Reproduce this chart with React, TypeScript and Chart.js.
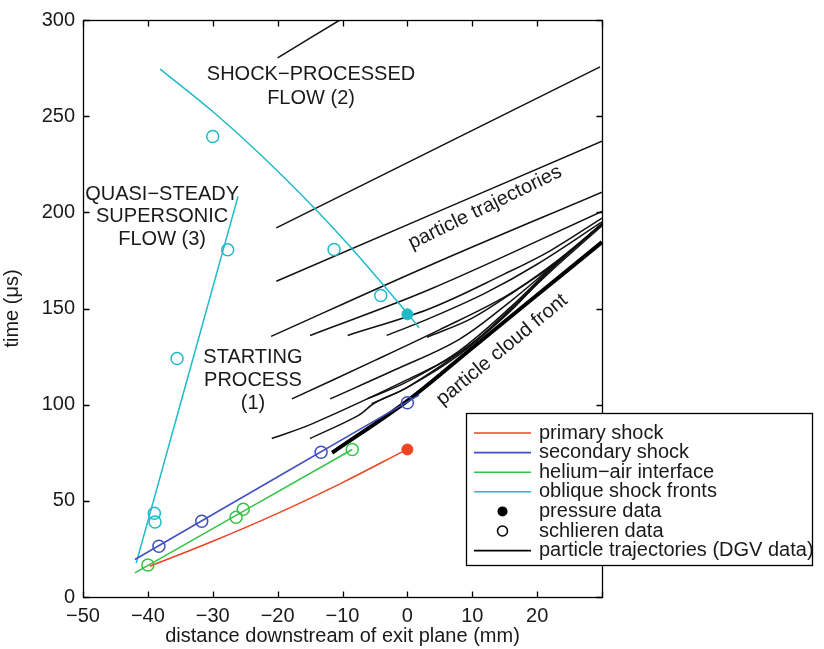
import React, { useEffect, useRef } from "react";
import { Chart, registerables } from "chart.js";

Chart.register(...registerables);

// ---------- axis ticks ----------
const xTickValues = [-50, -40, -30, -20, -10, 0, 10, 20, 30];
const xTickLabels = ["−50", "−40", "−30", "−20", "−10", "0", "10", "20", ""];
const yTickValues = [0, 50, 100, 150, 200, 250, 300];
const yTickLabels = ["0", "50", "100", "150", "200", "250", "300"];

// ---------- series (x in mm, y in µs) ----------
const primaryShock = [[-39.7, 16], [-30, 29], [-20, 43.5], [-10, 59.5], [-0.5, 76]];
const primaryPressure = [[0, 76.7]];

const secondaryShock = [[-42, 19.5], [1.8, 105]];
const secondarySchlieren = [[-38.3, 26.4], [-31.7, 39.4], [-13.3, 75.3], [0, 101]];

const interfaceLine = [[-42, 12.5], [-8.5, 76.7]];
const interfaceSchlieren = [[-40, 16.6], [-26.4, 41.5], [-25.3, 45.6], [-8.5, 76.7]];

const obliqueSteep = [[-41.8, 17.6], [-26.1, 208.3]];
const obliqueSteepSchlieren = [[-39, 43.5], [-38.9, 39], [-35.5, 124], [-27.7, 180.5]];
const obliqueCurve = [[-38.1, 274.5], [-30, 252.4], [-22.7, 230.2], [-14.5, 202.8], [-8.6, 181.3], [-0.1, 147.9], [1.8, 140]];
const obliqueCurveSchlieren = [[-30, 239.4], [-11.3, 180.7], [-4.1, 156.8]];
const obliquePressure = [[0, 147]];

// particle trajectories (DGV data)
const traj01 = [[-20, 280.3], [-10.4, 300]];
const traj02 = [[-20.2, 191.9], [29.7, 275.6]];
const traj03 = [[-20.2, 164.2], [30, 237]];
const traj04 = [[-21, 135.5], [3.5, 172.5], [30, 210.5]];
const traj05 = [[-15, 136], [3.5, 160], [30, 200.5]];
const traj06 = [[-9.2, 136], [3.5, 150], [15, 168], [22, 180], [30, 197]];
const traj07 = [[-3.2, 136], [3.5, 145], [12, 158], [20, 173], [30, 195]];
const traj08 = [[3, 135], [10, 145], [17, 160], [23, 174], [30, 194]];
const traj09 = [[-17.8, 103], [-5, 123], [5, 139], [15, 156], [22, 172], [30, 194]];
const traj10 = [[-11.9, 103], [-2, 118], [8, 134], [16, 154], [22, 171], [30, 194]];
const traj11 = [[-6.2, 103], [0, 112], [8, 128], [16, 151], [22, 170.5], [30, 194]];
const traj12 = [[-5.5, 100.5], [0, 109], [8, 126], [16, 149], [22, 170], [30, 194]];
const traj13 = [[-20.9, 82.4], [-14.7, 90], [0, 113], [8.9, 129], [16, 150], [22, 170], [30, 194]];
const traj14 = [[-15, 82.4], [-7.6, 94.3], [-5, 101], [0, 109], [10, 132], [17, 153], [22, 169], [30, 193]];
const trajectories = [traj01, traj02, traj03, traj04, traj05, traj06, traj07, traj08, traj09, traj10, traj11, traj12, traj13, traj14];
const cloudFront = [[-11.6, 75], [0, 102], [10, 129.5], [20, 157], [30, 184.5]];

// ---------- text ----------
const legendLabels = [
  "primary shock",
  "secondary shock",
  "helium−air interface",
  "oblique shock fronts",
  "pressure data",
  "schlieren data",
  "particle trajectories (DGV data)",
];
const noteTexts = [
  "SHOCK−PROCESSED", "FLOW (2)",
  "QUASI−STEADY", "SUPERSONIC", "FLOW (3)",
  "STARTING", "PROCESS", "(1)",
  "particle trajectories", "particle cloud front",
];
// layout of notes (data coordinates + rotation in degrees)
const notePlacement = [
  [-14.85, 271.5, 0], [-14.85, 259.1, 0],
  [-37.8, 209.3, 0], [-37.8, 197.9, 0], [-37.8, 186.0, 0],
  [-23.8, 124.4, 0], [-23.8, 112.4, 0], [-23.8, 100.5, 0],
  [11.97, 202.5, -26], [14.6, 128.5, -39.5],
];

const RED = "#ee4422";
const BLUE = "#4050c0";
const GREEN = "#33c444";
const CYAN = "#1fbac8";
const TEXT = "#1a1a1a";
const FONT_FAMILY = '"Liberation Sans", Arial, Helvetica, sans-serif';

const pts = (arr: number[][]) => arr.map(([x, y]) => ({ x, y }));

const lineDs = (data: number[][], color: string, width = 1.5, tension = 0.35) => ({
  data: pts(data),
  showLine: true,
  borderColor: color,
  backgroundColor: color,
  borderWidth: width,
  pointRadius: 0,
  tension,
  fill: false,
});
const openDs = (data: number[][], color: string) => ({
  data: pts(data),
  showLine: false,
  borderColor: color,
  backgroundColor: "rgba(0,0,0,0)",
  pointBorderWidth: 1.5,
  pointRadius: 6,
  pointStyle: "circle" as const,
});
const filledDs = (data: number[][], color: string) => ({
  data: pts(data),
  showLine: false,
  borderColor: color,
  backgroundColor: color,
  pointBorderWidth: 1,
  pointRadius: 5.5,
  pointStyle: "circle" as const,
});

const decorPlugin = {
  id: "decor",
  afterDatasetsDraw(chart: any) {
    const { ctx, chartArea: a, scales } = chart;
    const xs = scales.x;
    const ys = scales.y;
    ctx.save();
    // annotations
    ctx.fillStyle = TEXT;
    ctx.font = `20px ${FONT_FAMILY}`;
    ctx.textAlign = "center";
    ctx.textBaseline = "middle";
    noteTexts.forEach((t, i) => {
      const [dx, dy, rot] = notePlacement[i];
      const px = xs.getPixelForValue(dx);
      const py = ys.getPixelForValue(dy);
      ctx.save();
      ctx.translate(px, py);
      ctx.rotate((rot * Math.PI) / 180);
      ctx.fillText(t, 0, 0);
      ctx.restore();
    });
    // box + inward ticks
    const L = Math.round(a.left) + 0.5;
    const R = Math.round(a.right) + 0.5;
    const T = Math.round(a.top) + 0.5;
    const B = Math.round(a.bottom) + 0.5;
    ctx.strokeStyle = "#000";
    ctx.lineWidth = 1.3;
    ctx.strokeRect(L, T, R - L, B - T);
    const tl = 6;
    ctx.beginPath();
    xTickValues.forEach((v) => {
      const p = Math.round(xs.getPixelForValue(v)) + 0.5;
      ctx.moveTo(p, B); ctx.lineTo(p, B - tl);
      ctx.moveTo(p, T); ctx.lineTo(p, T + tl);
    });
    yTickValues.forEach((v) => {
      const p = Math.round(ys.getPixelForValue(v)) + 0.5;
      ctx.moveTo(L, p); ctx.lineTo(L + tl, p);
      ctx.moveTo(R, p); ctx.lineTo(R - tl, p);
    });
    ctx.stroke();
    ctx.restore();
  },
  afterDraw(chart: any) {
    const { ctx } = chart;
    ctx.save();
    const bx = 466.5, by = 413.5, bw = 346, bh = 152;
    ctx.fillStyle = "#fff";
    ctx.fillRect(bx, by, bw, bh);
    ctx.strokeStyle = "#000";
    ctx.lineWidth = 1.3;
    ctx.strokeRect(bx, by, bw, bh);
    const colors = [RED, BLUE, GREEN, CYAN, "#000", "#000", "#000"];
    const kinds = ["line", "line", "line", "line", "dot", "ring", "line"];
    ctx.font = `20px ${FONT_FAMILY}`;
    ctx.textBaseline = "middle";
    ctx.textAlign = "left";
    legendLabels.forEach((lab, i) => {
      const y = 433 + i * 19.6;
      const c = colors[i];
      if (kinds[i] === "line") {
        ctx.strokeStyle = c;
        ctx.lineWidth = i === 6 ? 1.8 : 1.6;
        ctx.beginPath();
        ctx.moveTo(474, y);
        ctx.lineTo(531, y);
        ctx.stroke();
      } else {
        ctx.beginPath();
        ctx.arc(502.5, y, 5, 0, Math.PI * 2);
        if (kinds[i] === "dot") {
          ctx.fillStyle = c;
          ctx.fill();
        } else {
          ctx.strokeStyle = c;
          ctx.lineWidth = 1.5;
          ctx.stroke();
        }
      }
      ctx.fillStyle = TEXT;
      ctx.fillText(lab, 539, y);
    });
    ctx.restore();
  },
};

export default function App() {
  const ref = useRef<HTMLCanvasElement | null>(null);
  useEffect(() => {
    if (!ref.current) return;
    const datasets: any[] = [
      filledDs(primaryPressure, RED),
      filledDs(obliquePressure, CYAN),
      openDs(secondarySchlieren, BLUE),
      openDs(interfaceSchlieren, GREEN),
      openDs(obliqueSteepSchlieren, CYAN),
      openDs(obliqueCurveSchlieren, CYAN),
      lineDs(primaryShock, RED),
      lineDs(secondaryShock, BLUE),
      lineDs(interfaceLine, GREEN),
      lineDs(obliqueSteep, CYAN),
      lineDs(obliqueCurve, CYAN, 1.5, 0.4),
      lineDs(cloudFront, "#000", 4),
      ...trajectories.map((t) => lineDs(t, "#111", 1.5)),
    ];
    const chart = new Chart(ref.current, {
      type: "scatter",
      data: { datasets },
      options: {
        responsive: false,
        maintainAspectRatio: false,
        devicePixelRatio: 1,
        animation: false,
        layout: { padding: { left: 0, right: 222, top: 18, bottom: 0 } },
        plugins: { legend: { display: false }, tooltip: { enabled: false } },
        scales: {
          x: {
            type: "linear",
            min: -50,
            max: 30,
            grid: { display: false, drawTicks: false },
            border: { display: false },
            afterBuildTicks: (s: any) => {
              s.ticks = xTickValues.map((v) => ({ value: v }));
            },
            afterFit: (s: any) => {
              s.height = 52;
            },
            ticks: {
              autoSkip: false,
              maxRotation: 0,
              padding: 7,
              color: TEXT,
              font: { size: 20, family: FONT_FAMILY },
              callback: (v: any) => {
                const i = xTickValues.indexOf(Number(v));
                return i >= 0 ? xTickLabels[i] : "";
              },
            },
            title: {
              display: true,
              text: "distance downstream of exit plane (mm)",
              color: TEXT,
              font: { size: 20, family: FONT_FAMILY },
              padding: { top: 0, bottom: 1 },
            },
          },
          y: {
            type: "linear",
            min: 0,
            max: 300,
            grid: { display: false, drawTicks: false },
            border: { display: false },
            afterBuildTicks: (s: any) => {
              s.ticks = yTickValues.map((v) => ({ value: v }));
            },
            afterFit: (s: any) => {
              s.width = 83;
            },
            ticks: {
              autoSkip: false,
              padding: 8,
              color: TEXT,
              font: { size: 20, family: FONT_FAMILY },
              callback: (v: any) => {
                const i = yTickValues.indexOf(Number(v));
                return i >= 0 ? yTickLabels[i] : "";
              },
            },
            title: {
              display: true,
              text: "time (μs)",
              color: TEXT,
              font: { size: 20, family: FONT_FAMILY },
              padding: { top: 0, bottom: 0 },
            },
          },
        },
      },
      plugins: [decorPlugin],
    });
    return () => chart.destroy();
  }, []);
  return (
    <div style={{ position: "absolute", left: 0, top: 0, width: 824, height: 649, background: "#fff" }}>
      <canvas ref={ref} width={824} height={649} style={{ width: 824, height: 649, display: "block" }} />
    </div>
  );
}
